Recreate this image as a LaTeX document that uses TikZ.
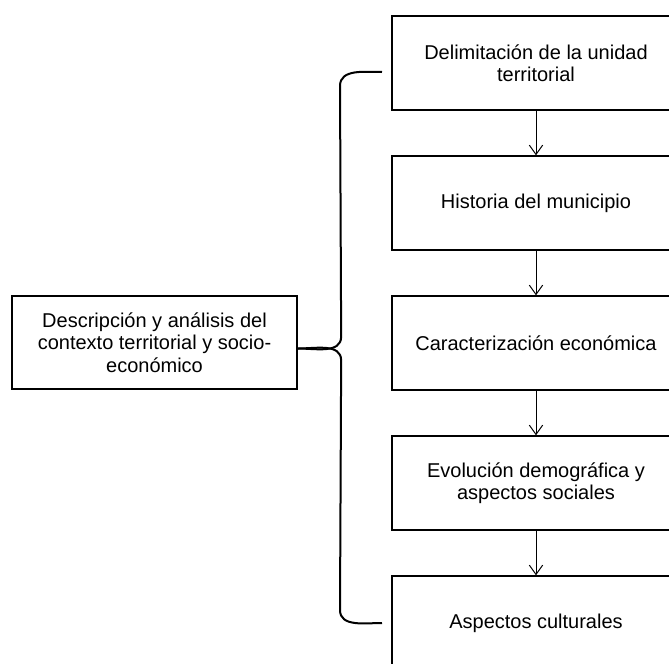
\documentclass[tikz,border=0pt]{standalone}
\usepackage{fontspec}
\setmainfont{Liberation Sans}
\usetikzlibrary{arrows.meta, calc}
\tikzstyle{stage} = [rectangle, minimum width=216pt, minimum height=70pt, text centered, align=center, draw=black, line width=1.5pt, font=\fontsize{15}{16.8}\selectfont]
\tikzstyle{topic} = [stage, minimum width=214pt]
\tikzstyle{arrow} = [line width=0.75pt, -{Straight Barb[length=7pt,width=10pt]}]
\tikzstyle{brace} = [line width=1.5pt]

\begin{document}
\begin{tikzpicture}[x=0.75pt, y=-0.75pt, node distance=105pt]
    \useasboundingbox (0,0) rectangle (669,664);
    \node (delim) [stage] at (536,63) {Delimitación de la unidad\\territorial};
    \node (hist) [stage, below of=delim] {Historia del municipio};
    \draw [arrow] (delim) -- (hist);
    \node (econ) [stage, below of=hist] {Caracterización económica};
    \draw [arrow] (hist) -- (econ);
    \node (demo) [stage, below of=econ] {Evolución demográfica y\\aspectos sociales};
    \draw [arrow] (econ) -- (demo);
    \node (cult) [stage, below of=demo] {Aspectos culturales};
    \draw [arrow] (demo) -- (cult);
    \node (desc) [topic] at (154.5,342.5) {Descripción y análisis del\\contexto territorial y socio-\\económico};
    % brace
    \coordinate (btop) at ($(delim.west)+(-9,9)$);
    \coordinate (bbot) at ($(cult.west)+(-9,0)$);
    \coordinate (btip) at ($(desc.east)+(0,6)$);
    \draw [brace] (btop) to[out=180,in=90] ($(btop)+(-42,14)$) -- ($(btip)+(43,-12)$) to[out=-90,in=0] (btip);
    \draw [brace] (btip) to[out=0,in=90] ($(btip)+(43,12)$) -- ($(bbot)+(-42,-13)$) to[out=-90,in=180] (bbot);
\end{tikzpicture}
\end{document}
